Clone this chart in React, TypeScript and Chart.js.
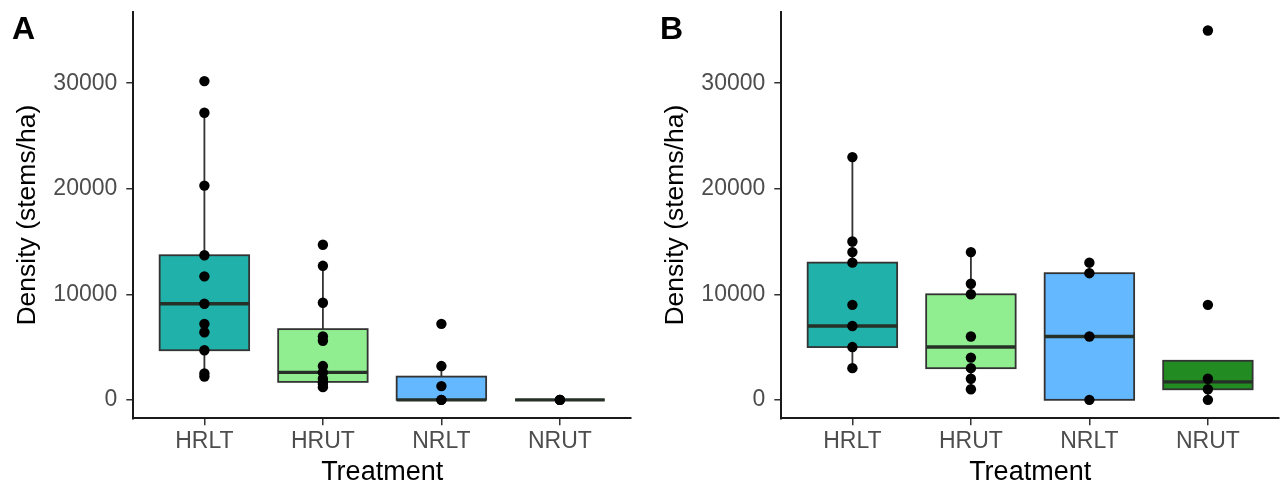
import React, { useEffect, useRef } from "react";
import { Chart, registerables } from "chart.js";

Chart.register(...registerables);

// ---------- data ----------
const categories = ["HRLT", "HRUT", "NRLT", "NRUT"];
const yTickValues = [0, 10000, 20000, 30000];
const boxColors = ["#20B2AA", "#90EE90", "#63B8FF", "#228B22"];

// Panel A: observed densities per treatment
const aHRLT = [30200, 27200, 20300, 13700, 11700, 9100, 7200, 6400, 4700, 2500, 2200];
const aHRUT = [14700, 12700, 9200, 6000, 5600, 3200, 2600, 2000, 1700, 1500, 1200];
const aNRLT = [7200, 3200, 1300, 0, 0];
const aNRUT = [0, 0, 0];
// Panel A: box statistics per treatment
const aLower = [2200, 1200, 0, 0];
const aQ1 = [4700, 1700, 0, 0];
const aMedian = [9100, 2600, 0, 0];
const aQ3 = [13700, 6700, 2200, 0];
const aUpper = [27200, 12700, 3200, 0];

// Panel B: observed densities per treatment
const bHRLT = [23000, 15000, 14000, 13000, 9000, 7000, 5000, 3000];
const bHRUT = [14000, 11000, 10000, 6000, 4000, 3000, 2000, 1000];
const bNRLT = [13000, 12000, 6000, 0];
const bNRUT = [35000, 9000, 2000, 1000, 0];
// Panel B: box statistics per treatment
const bLower = [3000, 1000, 0, 0];
const bQ1 = [5000, 3000, 0, 1000];
const bMedian = [7000, 5000, 6000, 1700];
const bQ3 = [13000, 10000, 12000, 3700];
const bUpper = [23000, 14000, 13000, 3700];

// ---------- styling constants ----------
const FONT = "'Liberation Sans', Arial, Helvetica, sans-serif";
const BOX_WIDTH = 0.755;

type Stats = { lower: number[]; q1: number[]; median: number[]; q3: number[]; upper: number[] };

function makeBoxPlugin(stats: Stats) {
  return {
    id: "boxes",
    beforeDatasetsDraw(chart: any) {
      const { ctx } = chart;
      const x = chart.scales.x;
      const y = chart.scales.y;
      ctx.save();
      for (let i = 0; i < stats.q1.length; i++) {
        const xc = x.getPixelForValue(i);
        const xl = x.getPixelForValue(i - BOX_WIDTH / 2);
        const xr = x.getPixelForValue(i + BOX_WIDTH / 2);
        const yLo = y.getPixelForValue(stats.lower[i]);
        const yQ1 = y.getPixelForValue(stats.q1[i]);
        const yMed = y.getPixelForValue(stats.median[i]);
        const yQ3 = y.getPixelForValue(stats.q3[i]);
        const yHi = y.getPixelForValue(stats.upper[i]);
        ctx.strokeStyle = "#333333";
        ctx.lineWidth = 1.8;
        ctx.beginPath();
        ctx.moveTo(xc, yHi);
        ctx.lineTo(xc, yQ3);
        ctx.moveTo(xc, yQ1);
        ctx.lineTo(xc, yLo);
        ctx.stroke();
        ctx.fillStyle = boxColors[i];
        ctx.fillRect(xl, yQ3, xr - xl, yQ1 - yQ3);
        ctx.strokeRect(xl, yQ3, xr - xl, yQ1 - yQ3);
        ctx.strokeStyle = "#263026";
        ctx.lineWidth = 3.4;
        ctx.beginPath();
        ctx.moveTo(xl, yMed);
        ctx.lineTo(xr, yMed);
        ctx.stroke();
      }
      ctx.restore();
    },
  };
}

function makeLabelPlugin(label: string) {
  return {
    id: "panelLabel",
    afterDraw(chart: any) {
      const { ctx } = chart;
      ctx.save();
      ctx.font = `bold 32px ${FONT}`;
      ctx.fillStyle = "#000";
      ctx.textBaseline = "alphabetic";
      ctx.textAlign = "left";
      ctx.fillText(label, 12, 39);
      ctx.restore();
    },
  };
}

function Panel(props: { label: string; groups: number[][]; stats: Stats; width: number; left: number; padRight: number }) {
  const ref = useRef<HTMLCanvasElement | null>(null);
  useEffect(() => {
    if (!ref.current) return;
    const pts: { x: number; y: number }[] = [];
    props.groups.forEach((g, i) => g.forEach((v) => pts.push({ x: i, y: v })));
    const chart = new Chart(ref.current, {
      type: "scatter",
      data: {
        datasets: [
          {
            data: pts,
            backgroundColor: "#000",
            borderWidth: 0,
            pointRadius: 5.2,
            pointHoverRadius: 5.2,
          },
        ],
      },
      plugins: [makeBoxPlugin(props.stats), makeLabelPlugin(props.label)],
      options: {
        animation: false,
        responsive: false,
        events: [],
        layout: { padding: { top: 12, right: props.padRight, left: 0, bottom: 0 } },
        plugins: { legend: { display: false }, tooltip: { enabled: false } },
        scales: {
          x: {
            type: "linear",
            min: -0.6,
            max: 3.6,
            afterBuildTicks: (axis: any) => {
              axis.ticks = categories.map((_, i) => ({ value: i }));
            },
            afterFit: (axis: any) => {
              axis.height = 64.7;
              axis.paddingLeft = 0;
              axis.paddingRight = 0;
            },
            ticks: {
              callback: (v: any) => categories[Math.round(Number(v))] ?? "",
              color: "#4d4d4d",
              font: { family: FONT, size: 23 },
              padding: 3,
              maxRotation: 0,
              autoSkip: false,
            },
            grid: { display: true, drawOnChartArea: false, drawTicks: true, tickLength: 7, color: "#333", lineWidth: 1.5 },
            border: { display: true, color: "#1a1a1a", width: 2 },
            title: {
              display: true,
              text: "Treatment",
              color: "#000",
              font: { family: FONT, size: 27, lineHeight: 0.6 },
              padding: { top: 0, bottom: 2.5 },
            },
          },
          y: {
            type: "linear",
            min: -1750,
            max: 36750,
            afterBuildTicks: (axis: any) => {
              axis.ticks = yTickValues.map((v) => ({ value: v }));
            },
            afterFit: (axis: any) => {
              axis.width = 133.3;
              axis.paddingTop = 0;
              axis.paddingBottom = 0;
            },
            ticks: {
              callback: (v: any) => String(v),
              color: "#4d4d4d",
              font: { family: FONT, size: 23 },
              padding: 9,
            },
            grid: { display: true, drawOnChartArea: false, drawTicks: true, tickLength: 7, color: "#333", lineWidth: 1.5 },
            border: { display: true, color: "#1a1a1a", width: 2 },
            title: {
              display: true,
              text: "Density (stems/ha)",
              color: "#000",
              font: { family: FONT, size: 26.5 },
              padding: { top: 11.5, bottom: 0 },
            },
          },
        },
      } as any,
    });
    return () => chart.destroy();
  }, []);
  return (
    <canvas
      ref={ref}
      width={props.width}
      height={483}
      style={{ position: "absolute", left: props.left, top: 0, width: props.width, height: 483 }}
    />
  );
}

export default function App() {
  return (
    <div style={{ position: "absolute", left: 0, top: 0, width: 1287, height: 483, background: "#fff", overflow: "hidden" }}>
      <Panel
        label="A"
        groups={[aHRLT, aHRUT, aNRLT, aNRUT]}
        stats={{ lower: aLower, q1: aQ1, median: aMedian, q3: aQ3, upper: aUpper }}
        width={640}
        left={0}
        padRight={9}
      />
      <Panel
        label="B"
        groups={[bHRLT, bHRUT, bNRLT, bNRUT]}
        stats={{ lower: bLower, q1: bQ1, median: bMedian, q3: bQ3, upper: bUpper }}
        width={639}
        left={648}
        padRight={8}
      />
    </div>
  );
}
